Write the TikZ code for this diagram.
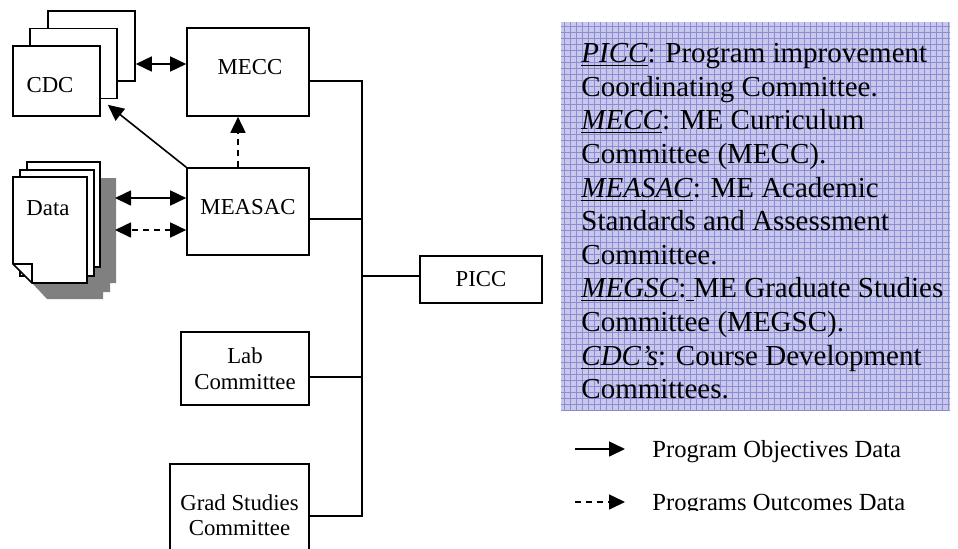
\documentclass[tikz,border=0pt]{standalone}
\usepackage{fontspec}
\setmainfont{Liberation Serif}
\usetikzlibrary{arrows.meta,patterns}
\definecolor{glossfill}{RGB}{200,200,236}
\definecolor{glossline}{RGB}{140,140,210}

\begin{document}
\begin{tikzpicture}[x=0.5pt,y=-0.5pt,font=\fontsize{11.4}{12.7}\selectfont,
    box/.style={draw,line width=0.8pt,fill=white,inner sep=0pt,align=center},
    wire/.style={line width=0.8pt},
    arr/.style={wire,-{Triangle[length=8pt,width=7.5pt]}},
    dbl/.style={wire,{Triangle[length=8pt,width=7.5pt]}-{Triangle[length=8pt,width=7.5pt]}},
    outc/.style={dash pattern=on 3pt off 2.5pt}]
    \useasboundingbox (0,0) rectangle (958,548);

    % committees
    \node[box,minimum width=43.5pt,minimum height=35pt] (cdcC) at (91.5,46) {};
    \node[box,minimum width=43.5pt,minimum height=35pt] (cdcB) at (73.5,63.5) {};
    \node[box,minimum width=43.5pt,minimum height=35pt] (cdc) at (56.5,81) {};
    \node (cdclbl) at (50,85) {CDC};
    \node[box,minimum width=61pt,minimum height=44pt] (mecc) at (248,72) {};
    \node (mecclbl) at (250,67) {MECC};
    \node[box,minimum width=61pt,minimum height=43.5pt] (measac) at (248,211.5) {};
    \node (measaclbl) at (248,207) {MEASAC};
    \node[box,minimum width=64pt,minimum height=36.5pt] (lab) at (245,368.5) {Lab\\Committee};
    \node[box,minimum width=69.5pt,minimum height=51pt] (grad) at (239.5,515) {Grad Studies\\Committee};
    \node[box,minimum width=61pt,minimum height=23.5pt] (picc) at (481,279.5) {PICC};

    % data pages
    \fill[gray] (100,178) -- (116,178) -- (116,283) -- (110,283) -- (110,292) -- (103,292)
        -- (103,299) -- (47,299) -- (32,283) -- cycle;
    \draw[wire,fill=white] (27,162) rectangle (100,267);
    \draw[wire,fill=white] (20,170) rectangle (94,276);
    \draw[wire,fill=white] (13,177) -- (87,177) -- (87,283) -- (32,283) -- (13,264) -- cycle;
    \draw[wire] (13,264) -- (32,264) -- (32,283);
    \node (data) at (48,208) {Data};
    \coordinate (dataR) at (115,214);

    \draw[dbl] ([shift={(0,-8)}]mecc.west) -- ([shift={(0,18)}]cdcC.east);
    \draw[arr] (measac.north west) -- ([shift={(7,-12)}]cdc.south east);
    \draw[arr,outc] ([shift={(-10,0)}]measac.north) -- ([shift={(-10,0)}]mecc.south);
    \draw[dbl] ([shift={(0,-13.5)}]measac.west) -- ([shift={(0,-16)}]dataR);
    \draw[dbl,outc] ([shift={(0,18.5)}]measac.west) -- ([shift={(0,16)}]dataR);

    % bus to PICC
    \coordinate (busT) at (362,81);
    \coordinate (busB) at (362,516);
    \draw[wire] (busT -| mecc.east) -- (busT) -- (busB) -- (busB -| grad.east);
    \draw[wire] ([shift={(0,7.5)}]measac.east) coordinate (m) -- (m -| busT);
    \draw[wire] ([shift={(0,8.5)}]lab.east) coordinate (l) -- (l -| busT);
    \draw[wire] ([shift={(0,-3.5)}]picc.west) coordinate (p) -- (p -| busT);

    % glossary
    \fill[glossfill] (561,22) rectangle (950,410);
    \fill[pattern=grid,pattern color=glossline] (561,22) rectangle (950,410);
    \node[anchor=north west,align=left,inner sep=0pt,font=\fontsize{14.5}{16.8}\selectfont]
        (gloss) at (581,43) {\underline{\textit{PICC}}: Program improvement\\
        Coordinating Committee.\\
        \underline{\textit{MECC}}: ME Curriculum\\
        Committee (MECC).\\
        \underline{\textit{MEASAC}}: ME Academic\\
        Standards and Assessment\\
        Committee.\\
        \underline{\textit{MEGSC}}:\underline{\ }ME Graduate Studies\\
        Committee (MEGSC).\\
        \underline{\textit{CDC’s}}: Course Development\\
        Committees.};

    % key
    \node[anchor=base west,inner sep=0pt,font=\fontsize{12.3}{14}\selectfont] (objlbl) at (652,457) {Program Objectives Data};
    \begin{scope}
        \clip (640,480) rectangle (958,510);
        \node[anchor=base west,inner sep=0pt,font=\fontsize{12.3}{14}\selectfont] (outlbl) at (652,510) {Programs Outcomes Data};
    \end{scope}
    \draw[arr] ([shift={(-77,-8)}]objlbl.base west) -- ([shift={(-27,-8)}]objlbl.base west);
    \draw[arr,outc] ([shift={(-77,-8)}]outlbl.base west) -- ([shift={(-27,-8)}]outlbl.base west);
\end{tikzpicture}
\end{document}
